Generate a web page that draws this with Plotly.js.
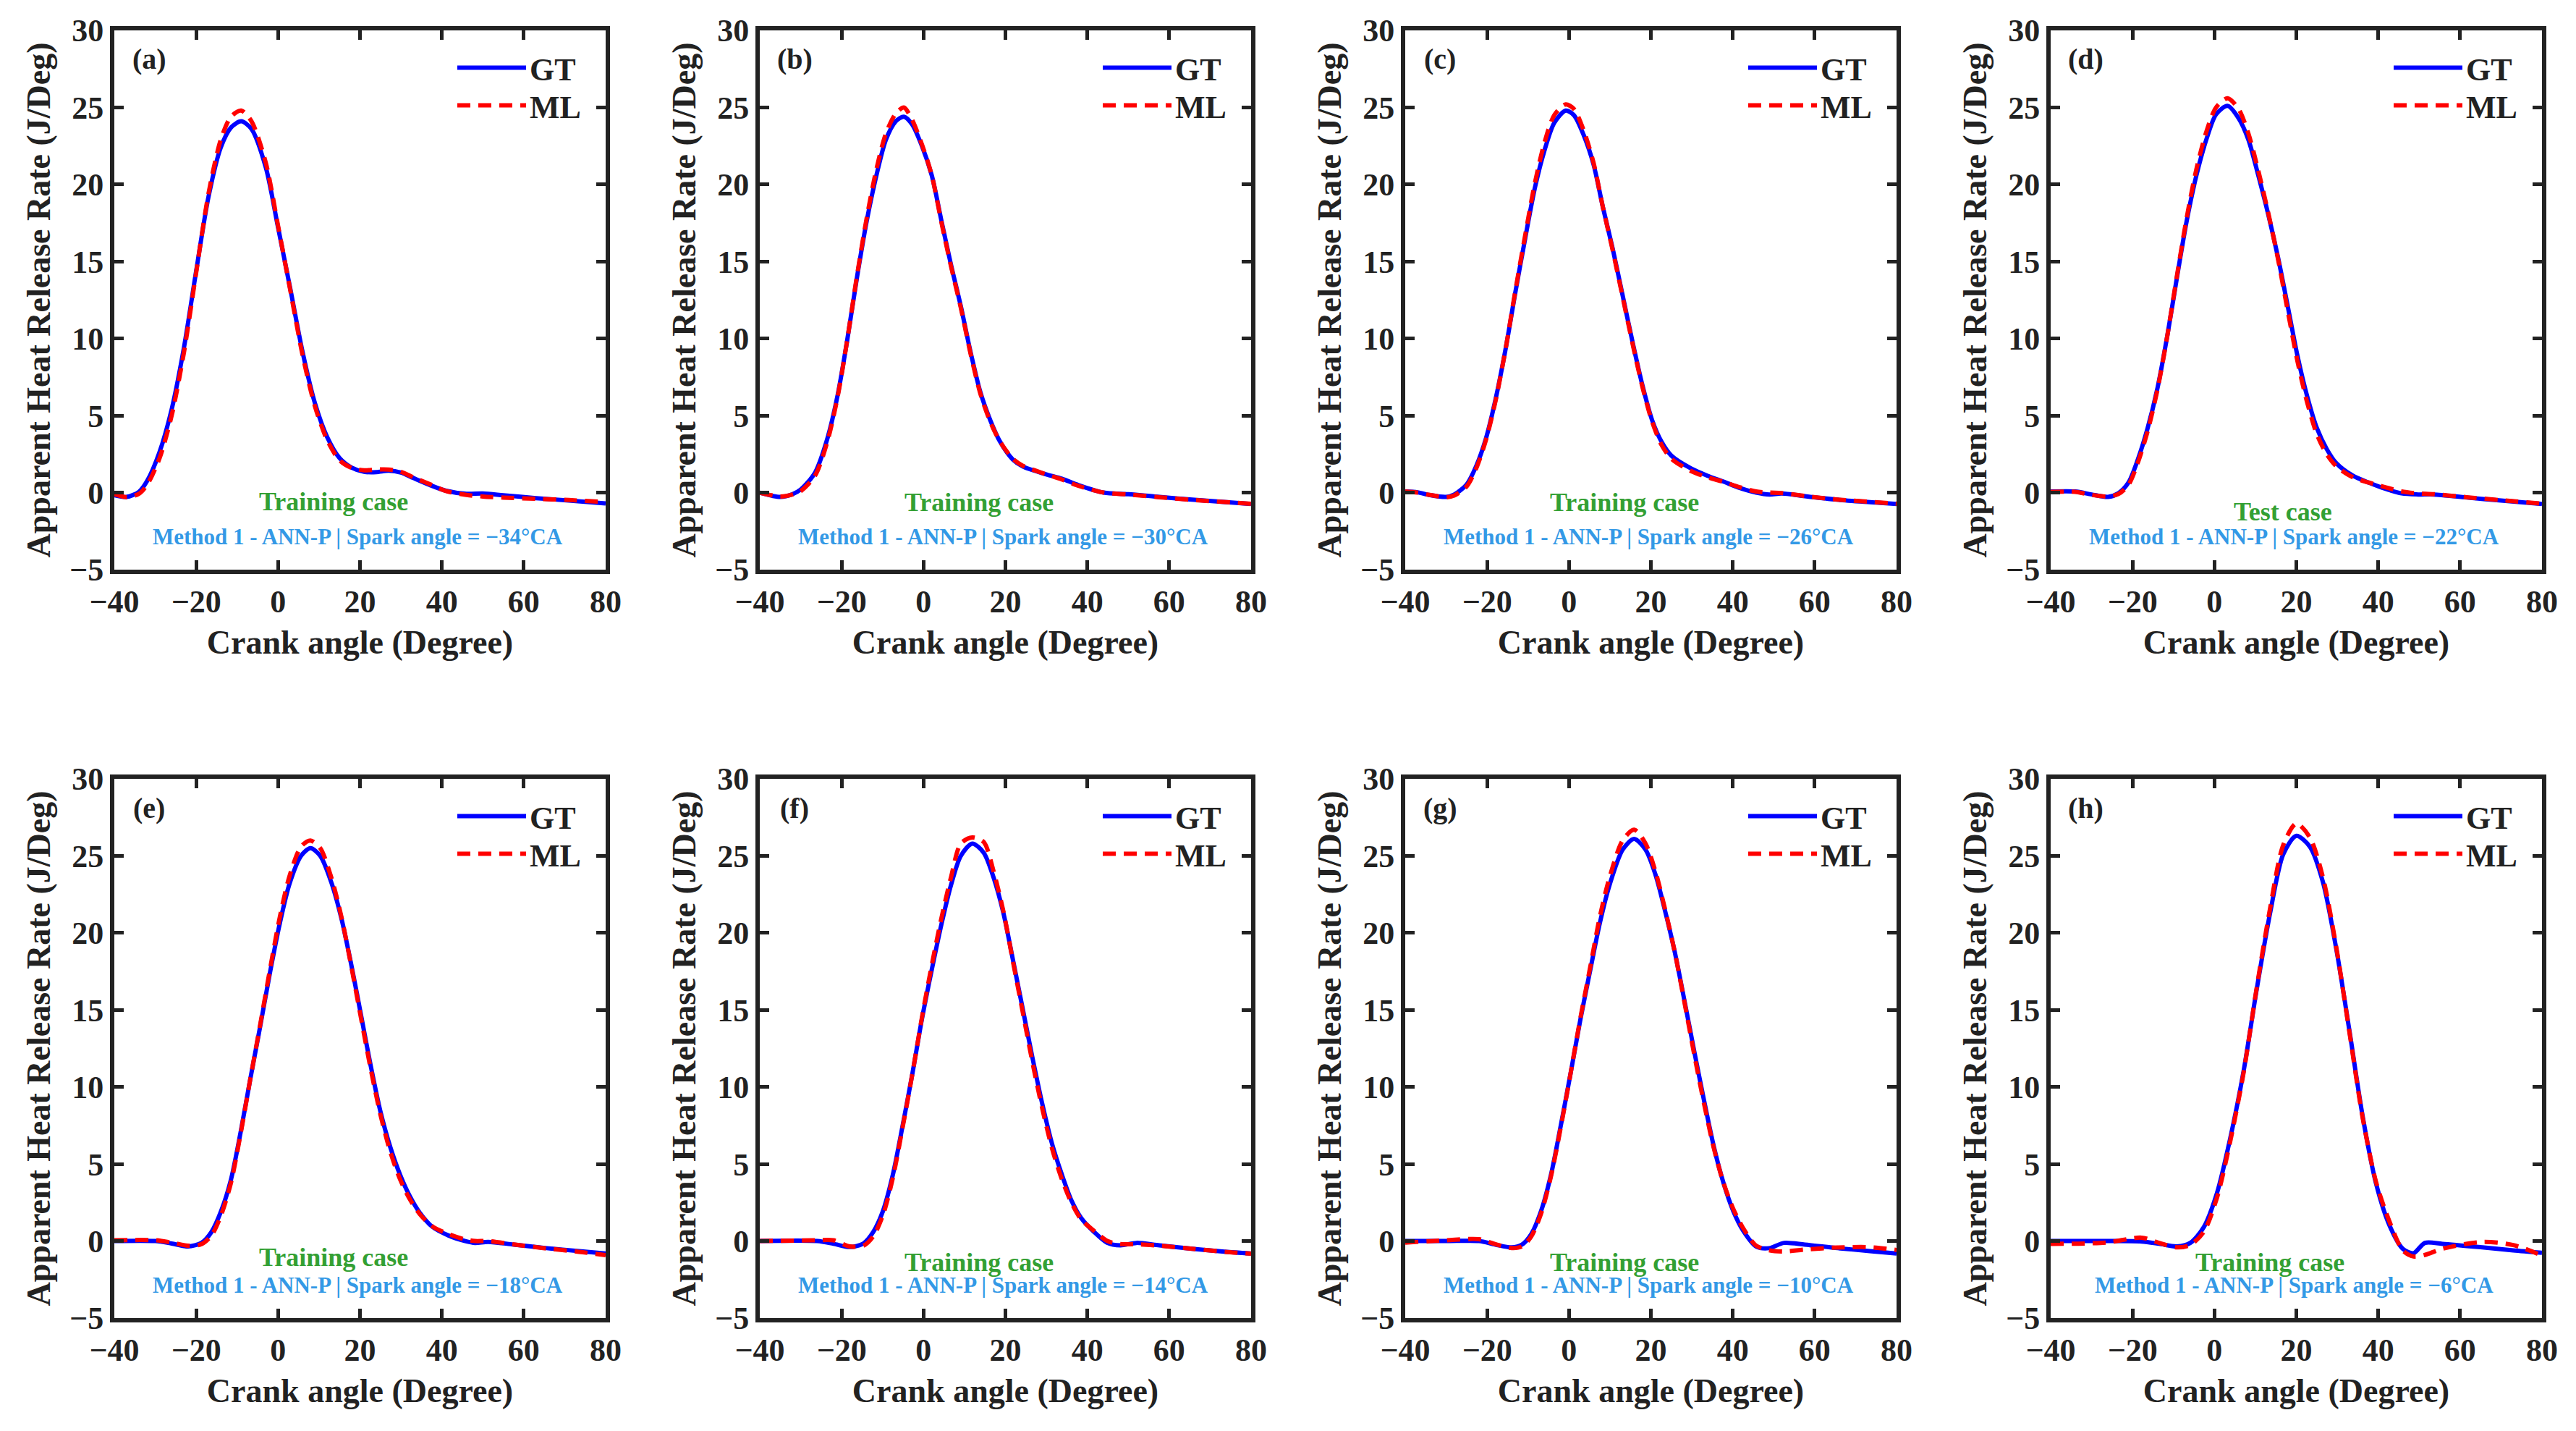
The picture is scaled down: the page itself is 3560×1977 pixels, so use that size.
<!DOCTYPE html>
<html>
<head>
<meta charset="utf-8">
<script src="https://cdn.plot.ly/plotly-3.0.1.min.js"></script>
<style>
  html, body { margin: 0; padding: 0; background: #fff; }
  #chart { width: 3560px; height: 1977px; }
</style>
</head>
<body>
<div id="chart"></div>
<script>
// crank angle (deg) and apparent heat release rate (J/deg)
const xA = [-40,-37,-34,-32,-29,-26,-23,-20,-17,-14,-11.5,-9,-6.5,-3,0,3,6,9,12,15,18,21,24,27,30,33,37,41,46,50,55,63,71,80];
const gtA = [-0.17,-0.28,0.05,0.75,2.6,5.4,9.4,14.4,19.2,22.4,23.7,24.1,23.6,21.1,17.2,13.2,9.1,5.8,3.6,2.25,1.62,1.35,1.33,1.42,1.3,0.95,0.5,0.12,-0.08,-0.06,-0.17,-0.36,-0.51,-0.7];
const mlA = [-0.1,-0.3,-0.08,0.5,2.2,5.0,9.1,14.3,19.4,22.9,24.4,24.8,24.1,21.4,17.3,13.1,8.9,5.6,3.4,2.1,1.6,1.45,1.5,1.5,1.35,1.0,0.55,0.1,-0.15,-0.25,-0.32,-0.4,-0.48,-0.62];

const xB = [-40,-35,-32,-30,-26.5,-23.5,-21,-18.7,-16.3,-13.9,-11.5,-9.2,-6.8,-4.8,-2.8,-0.4,2,4.4,6.7,9.1,11.5,13.9,16.3,18.7,21.8,24.2,29.8,33.8,37.7,44,50,57.6,65.6,80];
const gtB = [0,-0.28,-0.1,0.2,1.3,3.5,6.3,9.8,13.9,17.6,20.6,22.9,24.1,24.4,23.9,22.5,20.6,17.6,14.8,12.1,9.1,6.5,4.7,3.3,2.15,1.7,1.2,0.9,0.5,0.0,-0.1,-0.28,-0.46,-0.74];
const mlB = [0,-0.25,-0.12,0.1,1.1,3.3,6.2,9.8,14.0,17.8,21.0,23.3,24.6,25.0,24.2,22.6,20.6,17.5,14.7,12.0,9.0,6.4,4.6,3.3,2.2,1.75,1.2,0.85,0.45,0.0,-0.12,-0.3,-0.47,-0.72];

const xC = [-40,-37,-34,-30,-28,-25,-22.7,-20.3,-17.9,-15.5,-13.1,-10.7,-8.4,-6,-3.6,-0.8,1.2,3.6,6,8.3,10.7,13.1,15.5,17.9,20.3,22.6,25,29.8,33.8,37.7,41.7,45.7,49,52,57.6,65.6,73.5,80];
const gtC = [0.07,0.02,-0.16,-0.28,-0.12,0.53,1.7,3.5,6.1,9.3,13.0,16.5,19.7,22.2,24.0,24.8,24.5,23.2,21.3,18.5,15.8,12.8,9.8,7.0,4.7,3.3,2.4,1.57,1.1,0.72,0.3,0.0,-0.12,-0.05,-0.23,-0.46,-0.62,-0.74];
const mlC = [0.07,0.0,-0.15,-0.3,-0.18,0.4,1.55,3.4,6.0,9.3,13.1,16.7,20.0,22.7,24.5,25.2,24.9,23.5,21.4,18.5,15.7,12.7,9.7,6.9,4.6,3.1,2.2,1.4,1.0,0.7,0.35,0.07,0.0,-0.03,-0.22,-0.45,-0.6,-0.72];

const xD = [-40,-34,-30,-26,-23.5,-21,-18.7,-16.3,-13.9,-11.5,-9.2,-6.8,-4.4,-2,0.4,3.2,5.9,8.3,10.7,13.1,15.5,17.9,20.3,22.6,25,27.4,29.8,33.8,37.7,41.7,45.7,49.7,53.6,61.6,69.5,80];
const gtD = [0.07,0.07,-0.12,-0.28,-0.05,0.65,2.15,4.2,6.8,10.2,13.9,17.6,20.6,22.9,24.55,25.1,24.3,22.9,20.6,18.1,15.3,12.1,8.85,6.3,4.2,2.84,1.9,1.1,0.65,0.25,-0.05,-0.12,-0.12,-0.32,-0.5,-0.74];
const mlD = [0.05,0.05,-0.15,-0.25,-0.1,0.5,1.95,4.0,6.7,10.2,14.0,17.8,21.0,23.4,25.0,25.6,24.9,23.3,20.9,18.2,15.2,11.8,8.5,5.9,3.8,2.5,1.7,1.0,0.65,0.35,0.08,-0.05,-0.1,-0.3,-0.48,-0.72];

const xE = [-40,-30,-26,-22,-18.7,-16.3,-13.9,-11.5,-9.2,-6.8,-4.4,-2,0.4,2.8,5.6,7.9,10.3,13.1,15.5,17.9,20.3,22.6,25,27.4,29.8,32.2,34.6,37.7,41.7,45.7,48.1,51.3,57.6,65.6,73.5,80];
const gtE = [0,0,-0.16,-0.35,-0.12,0.58,1.96,4.0,7.0,10.5,13.9,17.4,20.6,23.2,25.0,25.5,25.0,23.2,20.9,17.9,14.6,11.4,8.4,6.1,4.3,2.9,1.84,0.92,0.35,0.0,-0.12,-0.05,-0.23,-0.46,-0.65,-0.81];
const mlE = [0.05,0.05,-0.1,-0.3,-0.2,0.35,1.7,3.8,6.9,10.5,14.0,17.6,21.0,23.7,25.6,26.0,25.5,23.5,21.0,17.8,14.4,11.2,8.2,5.8,4.0,2.7,1.75,0.95,0.45,0.1,0.0,0.0,-0.22,-0.48,-0.7,-0.92];

const xF = [-40,-26,-22,-18,-14.7,-12.3,-9.9,-7.5,-5.1,-2.7,-0.4,2,4.4,6.7,9.1,11.9,14.7,17.1,19.5,21.8,24.2,26.6,29,31.4,33.8,36.1,38.5,41.7,44.9,48.1,52,57.6,65.6,73.5,80];
const gtF = [0,0,-0.18,-0.39,-0.16,0.58,1.96,4.3,7.5,10.9,14.4,17.6,20.6,23.1,25.0,25.8,25.2,23.6,21.3,18.3,15.1,11.9,8.9,6.3,4.3,2.65,1.5,0.58,-0.12,-0.28,-0.12,-0.28,-0.5,-0.69,-0.81];
const mlF = [0,0.05,0.05,-0.35,-0.3,0.3,1.7,4.1,7.4,10.9,14.5,17.9,21.0,23.6,25.8,26.2,25.9,24.0,21.4,18.2,14.9,11.6,8.6,6.0,4.0,2.5,1.4,0.65,0.0,-0.2,-0.2,-0.3,-0.5,-0.7,-0.82];

const xG = [-40,-30,-22,-18,-14,-11.5,-9.2,-6.8,-4.4,-2,0.4,2.8,5.2,7.5,9.9,13.1,15.9,18.7,21.1,23.4,25.8,28.2,30.6,33,35.4,37.7,40.1,42.5,45.7,48.9,52.5,57.6,65.6,73.5,80];
const gtG = [0,0,0,-0.23,-0.41,-0.23,0.46,1.96,4.3,7.5,10.9,14.4,17.6,20.6,23.1,25.4,26.1,25.4,23.8,21.5,18.8,15.6,12.3,9.1,6.1,3.8,1.96,0.69,-0.35,-0.46,-0.12,-0.23,-0.46,-0.65,-0.81];
const mlG = [-0.1,0.05,0.12,-0.2,-0.45,-0.35,0.3,1.8,4.2,7.4,10.9,14.5,17.8,21.0,23.6,26.0,26.7,25.8,24.0,21.6,18.8,15.5,12.1,8.9,6.0,3.8,2.1,0.85,-0.3,-0.6,-0.68,-0.55,-0.42,-0.4,-0.58];

const xH = [-40,-26.5,-17.8,-13.5,-9.2,-5.9,-2.6,0.6,3.8,7.1,10.3,13.6,16.8,20,23.3,26.5,29.8,33,36.2,39.5,42.7,46,48.6,51.4,55.7,65.4,73,80];
const gtH = [0,0,-0.03,-0.18,-0.35,-0.12,0.9,3.1,6.6,11.0,16.3,21.3,25.1,26.3,25.6,23.3,18.9,13.6,8.1,3.7,1.05,-0.5,-0.79,-0.12,-0.18,-0.41,-0.61,-0.76];
const mlH = [-0.18,-0.1,0.22,-0.12,-0.41,-0.25,0.6,2.8,6.4,10.9,16.4,21.6,25.7,27.1,26.2,23.6,19.0,13.5,8.0,3.8,1.3,-0.6,-1.0,-0.9,-0.5,-0.06,-0.26,-0.94];

const panelLetters = ['a','b','c','d','e','f','g','h'];
const sparkAngles = [-34,-30,-26,-22,-18,-14,-10,-6];
const caseLabels = ['Training case','Training case','Training case','Test case',
                    'Training case','Training case','Training case','Training case'];
const xTicks = [-40,-20,0,20,40,60,80];
const yTicks = [-5,0,5,10,15,20,25,30];

const series = [
    [xA, gtA, mlA], [xB, gtB, mlB], [xC, gtC, mlC], [xD, gtD, mlD],
    [xE, gtE, mlE], [xF, gtF, mlF], [xG, gtG, mlG], [xH, gtH, mlH]
];

// ---- layout geometry (pixels of the 3560x1977 page) ----
const W = 3560, H = 1977;
const colLeft = [158, 1050, 1942, 2834];
const rowTop = [42, 1076];
const boxW = 679, boxH = 745;
const caseY = [-0.6, -0.65, -0.65, -1.25, -1.05, -1.4, -1.4, -1.4];

const FONT = 'Liberation Serif, Times New Roman, serif';
const INK = '#222222';

const traces = [];
const layout = {
    width: W, height: H,
    margin: { l: 0, r: 0, t: 0, b: 0 },
    paper_bgcolor: '#ffffff',
    plot_bgcolor: '#ffffff',
    font: { family: FONT, color: INK, size: 44, weight: 'bold' },
    annotations: [],
    showlegend: true
};

function legendBox(x, yFromTop) {
    return {
        x: x, y: 1 - yFromTop / H,
        xanchor: 'left', yanchor: 'middle',
        bgcolor: 'rgba(0,0,0,0)', borderwidth: 0,
        itemwidth: 95,
        font: { family: FONT, size: 44, color: INK, weight: 'bold' }
    };
}

series.forEach(([x, gt, ml], i) => {
    const n = i + 1;
    const sfx = n === 1 ? '' : String(n);
    const col = i % 4, row = Math.floor(i / 4);
    const L = colLeft[col], T = rowTop[row];
    const gtLegend = i === 0 ? 'legend' : 'legend' + (2 * i + 1);
    const mlLegend = 'legend' + (2 * i + 2);

    traces.push({
        x: x, y: gt, type: 'scatter', mode: 'lines', name: 'GT',
        xaxis: 'x' + sfx, yaxis: 'y' + sfx, legend: gtLegend,
        line: { color: '#0000ff', width: 6, shape: 'spline', smoothing: 0.8 }
    });
    traces.push({
        x: x, y: ml, type: 'scatter', mode: 'lines', name: 'ML',
        xaxis: 'x' + sfx, yaxis: 'y' + sfx, legend: mlLegend,
        line: { color: '#ff0000', width: 6, dash: '18px,11px', shape: 'spline', smoothing: 0.8 }
    });

    const axisCommon = {
        showline: true, linecolor: INK, linewidth: 6, mirror: 'ticks',
        ticks: 'inside', ticklen: 13, tickwidth: 5, tickcolor: INK,
        showgrid: false, zeroline: false, fixedrange: true,
        tickfont: { family: FONT, size: 44, color: INK, weight: 'bold' }
    };
    layout['xaxis' + sfx] = {
        ...axisCommon,
        anchor: 'y' + sfx,
        domain: [L / W, (L + boxW) / W],
        range: [-40, 80], tickvals: xTicks,
        title: { text: 'Crank angle (Degree)', standoff: 18,
                 font: { family: FONT, size: 46, color: INK, weight: 'bold' } }
    };
    layout['yaxis' + sfx] = {
        ...axisCommon,
        anchor: 'x' + sfx,
        domain: [1 - (T + boxH) / H, 1 - T / H],
        range: [-5, 30], tickvals: yTicks,
        title: { text: 'Apparent Heat Release Rate (J/Deg)', standoff: 14,
                 font: { family: FONT, size: 46, color: INK, weight: 'bold' } }
    };

    layout[gtLegend] = legendBox((L + 469) / W, T + 52);
    layout[mlLegend] = legendBox((L + 469) / W, T + 104);

    // panel letter
    layout.annotations.push({
        xref: 'paper', yref: 'paper',
        x: (L + 48) / W, y: 1 - (T + 40) / H,
        xanchor: 'center', yanchor: 'middle', showarrow: false,
        text: '(' + panelLetters[i] + ')',
        font: { family: FONT, size: 40, color: INK, weight: 'bold' }
    });
    // case label
    layout.annotations.push({
        xref: 'x' + sfx, yref: 'y' + sfx,
        x: caseLabels[i] === 'Test case' ? 16.7 : 13.5, y: caseY[i],
        xanchor: 'center', yanchor: 'middle', showarrow: false,
        text: caseLabels[i],
        font: { family: FONT, size: 36, color: '#33a033', weight: 'bold' }
    });
    // method / spark angle label
    layout.annotations.push({
        xref: 'x' + sfx, yref: 'y' + sfx,
        x: 19.5, y: -2.85,
        xanchor: 'center', yanchor: 'middle', showarrow: false,
        text: 'Method 1 - ANN-P | Spark angle = \u2212' + Math.abs(sparkAngles[i]) + '°CA',
        font: { family: FONT, size: 31, color: '#3399e6', weight: 'bold' }
    });
});

Plotly.newPlot('chart', traces, layout, { displayModeBar: false, staticPlot: true });
</script>
</body>
</html>
